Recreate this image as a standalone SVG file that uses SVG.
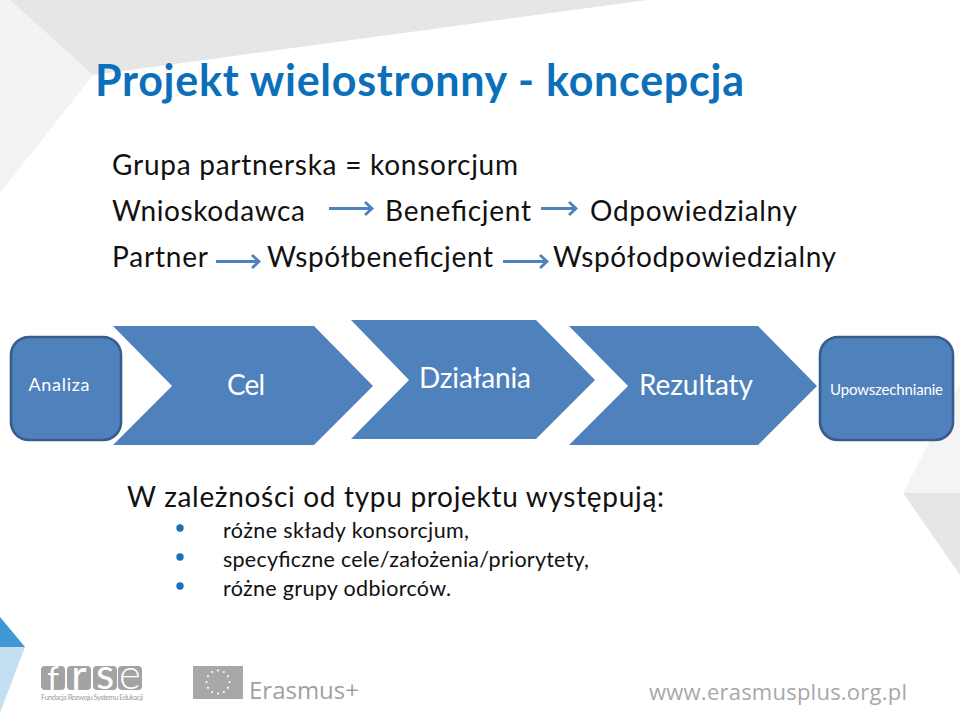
<svg xmlns="http://www.w3.org/2000/svg" width="960" height="719" viewBox="0 0 960 719">
<style>
.t{font-family:"Lato","Open Sans",sans-serif;fill:#111}
.w{font-family:"Lato","Open Sans",sans-serif;fill:#fff;text-anchor:middle}
.s{fill:#4f81bd}
.r{fill:#4f81bd;stroke:#385d8a;stroke-width:2.6}
.c{fill:none;stroke:#4f81bd;stroke-width:3}
.g{fill:#a8a8a8}
.f{fill:#a3a3a3}
.l{font-family:"Lato",sans-serif;font-size:42px;fill:#fff;text-anchor:middle}
.d{fill:#fff}
.u{fill:#1a70b8}
</style>
<defs>
<marker id="a" markerUnits="userSpaceOnUse" markerWidth="14" markerHeight="18" refX="11" refY="9" orient="auto"><path d="M4 2.500L11 9L4 15.500" fill="none" stroke="#4f81bd" stroke-width="2.800"/></marker>
</defs>
<rect width="960" height="719" fill="#fff"/>
<g id="background">
<polygon points="0,0 10,0 93,75 0,193" fill="#f3f3f3"/>
<polygon points="10,0 647,0 93,75" fill="#e6e6e6"/>
<polygon points="960,383 903,493 960,493" fill="#f4f4f4"/>
<polygon points="903,493 960,493 960,575" fill="#e6e6e6"/>
<polygon points="0,617 25,647 0,647" fill="#3f97d3"/>
<polygon points="0,647 25,647 0,713" fill="#c5dff2"/>
</g>
<text id="title" class="t" x="95" y="95.500" font-size="43" font-weight="700" style="fill:#0b6fba" textLength="649">Projekt wielostronny - koncepcja</text>
<g id="lines" font-size="28">
<text class="t" x="112" y="175" textLength="406">Grupa partnerska = konsorcjum</text>
<text class="t" x="112" y="221" textLength="193">Wnioskodawca</text>
<text class="t" x="385" y="221" textLength="146">Beneficjent</text>
<text class="t" x="590" y="221" textLength="207">Odpowiedzialny</text>
<text class="t" x="112" y="267" textLength="96">Partner</text>
<text class="t" x="267" y="267" textLength="226">Współbeneficjent</text>
<text class="t" x="553" y="267" textLength="283">Współodpowiedzialny</text>
</g>
<g id="connectors">
<line class="c" x1="329" y1="208.500" x2="372" y2="208.500" marker-end="url(#a)"/>
<line class="c" x1="541" y1="208.500" x2="576" y2="208.500" marker-end="url(#a)"/>
<line class="c" x1="216" y1="261.500" x2="259" y2="261.500" marker-end="url(#a)"/>
<line class="c" x1="503" y1="261.500" x2="547" y2="261.500" marker-end="url(#a)"/>
</g>
<g id="analiza"><rect class="r" x="11" y="337" width="110" height="103" rx="18"/><text class="w" x="59" y="391" font-size="18" textLength="61">Analiza</text></g>
<g id="cel"><polygon class="s" points="113,326 314,326 373,386 314,445 113,445 172,386"/><text class="w" x="246" y="395" font-size="28" textLength="38">Cel</text></g>
<g id="dzialania"><polygon class="s" points="351,320 536,320 595,380 536,439 351,439 409,380"/><text class="w" x="475" y="388" font-size="28" textLength="112">Działania</text></g>
<g id="rezultaty"><polygon class="s" points="569,326 758,326 817,386 758,445 569,445 628,386"/><text class="w" x="696" y="395" font-size="28" textLength="114">Rezultaty</text></g>
<g id="upowszechnianie"><rect class="r" x="820" y="337" width="133" height="103" rx="18"/><text class="w" x="886.500" y="395" font-size="15" textLength="113">Upowszechnianie</text></g>
<g id="body">
<text class="t" x="127" y="507" font-size="28" textLength="537">W zależności od typu projektu występują:</text>
<text class="t" x="223" y="538" font-size="21.500" textLength="246">różne składy konsorcjum,</text>
<text class="t" x="223" y="567" font-size="21.500" textLength="366">specyficzne cele/założenia/priorytety,</text>
<text class="t" x="223" y="596" font-size="21.500" textLength="228">różne grupy odbiorców.</text>
<circle class="u" cx="180" cy="528" r="3.700"/>
<circle class="u" cx="180" cy="557" r="3.700"/>
<circle class="u" cx="180" cy="586" r="3.700"/>
</g>
<g id="logo-frse">
<rect class="f" x="41" y="666" width="24" height="24" rx="4"/>
<rect class="f" x="67" y="666" width="24" height="24" rx="4"/>
<rect class="f" x="93" y="666" width="24" height="24" rx="4"/>
<rect class="f" x="118" y="666" width="24" height="24" rx="4"/>
<text class="l" x="53" y="690" style="font-size:33px">f</text>
<text class="l" x="79" y="690">r</text>
<text class="l" x="105" y="689">s</text>
<text class="l" x="130" y="689" font-weight="300">e</text>
<text x="41" y="700" font-family="Lato,sans-serif" font-size="7.500" fill="#a0a0a0" textLength="102">Fundacja Rozwoju Systemu Edukacji</text>
</g>
<g id="logo-erasmus">
<rect class="g" x="193" y="666" width="50" height="33"/>
<g class="d">
<circle cx="218" cy="670.500" r="1.100"/><circle cx="223.800" cy="672" r="1.100"/><circle cx="228" cy="676.300" r="1.100"/><circle cx="229.500" cy="682" r="1.100"/><circle cx="228" cy="687.800" r="1.100"/><circle cx="223.800" cy="692" r="1.100"/><circle cx="218" cy="693.500" r="1.100"/><circle cx="212.200" cy="692" r="1.100"/><circle cx="208" cy="687.800" r="1.100"/><circle cx="206.500" cy="682" r="1.100"/><circle cx="208" cy="676.300" r="1.100"/><circle cx="212.200" cy="672" r="1.100"/>
</g>
<text x="249" y="699" font-family="Open Sans,sans-serif" font-size="24" fill="#a0a0a0" textLength="110">Erasmus+</text>
</g>
<text id="url" x="649" y="700" font-family="Open Sans,sans-serif" font-size="22" fill="#a8a8a8" textLength="258">www.erasmusplus.org.pl</text>
</svg>
